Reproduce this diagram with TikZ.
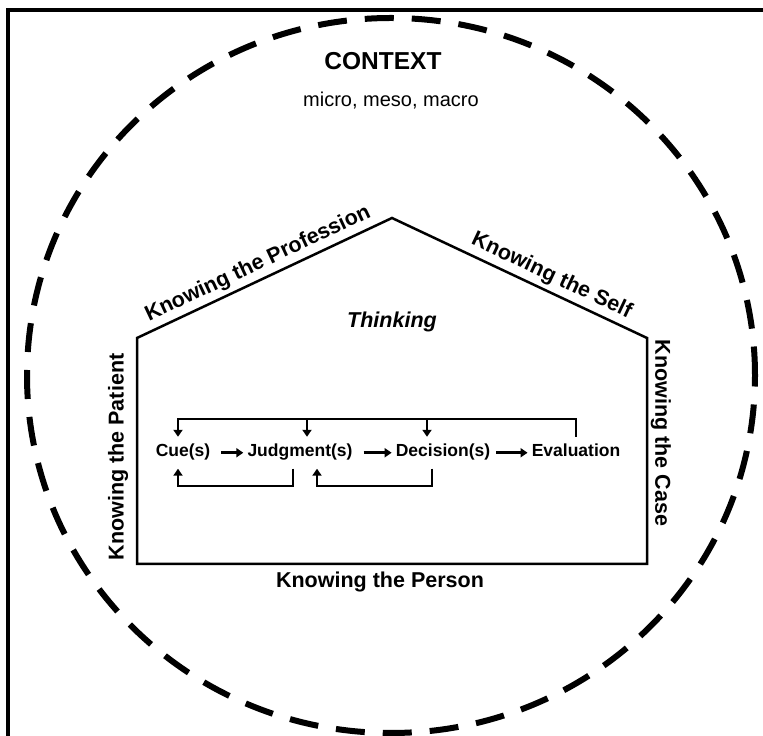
\documentclass[tikz,border=0pt]{standalone}
\usepackage{fontspec}
\setmainfont{Liberation Sans}
\usetikzlibrary{arrows.meta}
\tikzset{
  know/.style={font=\bfseries\fontsize{21.5}{25}\selectfont, inner sep=1pt},
  stage/.style={font=\bfseries\fontsize{17.5}{21}\selectfont, anchor=base,
    inner xsep=2pt, inner ysep=7.5pt, text height=12.5pt, text depth=4pt},
  wall/.style={line width=2.5pt},
  fb/.style={line width=2.5pt},
  fbarrow/.style={fb, -{Triangle[width=9pt,length=7pt]}},
}

\begin{document}
\begin{tikzpicture}[x=1pt,y=1pt]
                \useasboundingbox (0,0) rectangle (763,736);
                \draw[line width=3.5pt] (8,0) -- (8,726) -- (763,726);
                \draw[line width=6pt, dash pattern=on 29pt off 18pt] (391,360.5) ellipse [x radius=364, y radius=357.5];
                \coordinate (eaveL) at (137,398);
                \coordinate (apex) at (392,518);
                \coordinate (eaveR) at (647,398);
                \coordinate (floorR) at (647,172);
                \coordinate (floorL) at (137,172);
                \draw[wall] (eaveL) -- node[know, sloped, above=3pt, pos=0.5] (profession) {Knowing the Profession} (apex)
                    -- node[know, sloped, above=3pt, pos=0.6] (self) {Knowing the Self} (eaveR)
                    -- (floorR) -- (floorL) -- cycle;
                \node[font=\bfseries\fontsize{24.5}{30}\selectfont, anchor=base] (context) at (383,666) {CONTEXT};
                \node[font=\fontsize{20}{24}\selectfont, anchor=base] (levels) at (391,629) {micro, meso, macro};
                \node[know, font=\bfseries\itshape\fontsize{21.5}{25}\selectfont, anchor=base] (thinking) at (392,408) {Thinking};
                \node[know, rotate=90] (patient) at (118,279) {Knowing the Patient};
                \node[know, rotate=-90] (case) at (661,303) {Knowing the Case};
                \node[know, anchor=base] (person) at (380,148) {Knowing the Person};
                \node[stage] (cue) at (183,279) {Cue(s)};
                \node[stage] (judgment) at (300,279) {Judgment(s)};
                \node[stage] (decision) at (443,279) {Decision(s)};
                \node[stage] (evaluation) at (576,279) {Evaluation};
                \coordinate (fbtop) at (0,317);
                \coordinate (fbbot) at (0,250);
                \draw[fbarrow, shorten <=9pt, shorten >=2pt] (cue) -- (judgment);
                \draw[fbarrow, shorten <=9pt, shorten >=2pt] (judgment) -- (decision);
                \draw[fbarrow, shorten <=4pt, shorten >=2pt] (decision) -- (evaluation);
                \draw[fb, {Triangle[width=9pt,length=7pt]}-] ([xshift=-5pt]cue.north) -- ([xshift=-5pt]cue.north |- fbtop) -| (evaluation.north);
                \draw[fbarrow] ([xshift=7pt]judgment.north |- fbtop) -- ([xshift=7pt]judgment.north);
                \draw[fbarrow] ([xshift=-16pt]decision.north |- fbtop) -- ([xshift=-16pt]decision.north);
                \draw[fbarrow] ([xshift=-7pt]judgment.south) -- ([xshift=-7pt]judgment.south |- fbbot) -| ([xshift=-5pt]cue.south);
                \draw[fbarrow] ([xshift=-11pt]decision.south) -- ([xshift=-11pt]decision.south |- fbbot) -| ([xshift=17pt]judgment.south);
            \end{tikzpicture}
\end{document}
